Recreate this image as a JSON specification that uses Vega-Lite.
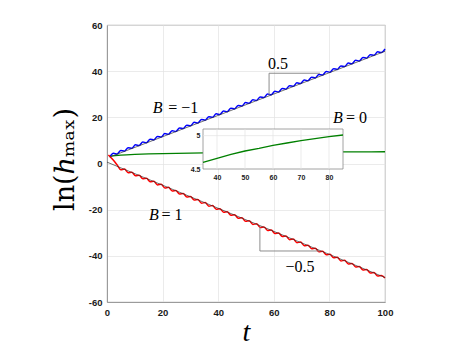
{
  "$schema": "https://vega.github.io/schema/vega-lite/v6.json",
  "autosize": "none",
  "width": 278,
  "height": 277,
  "padding": {"left": 107, "top": 25, "right": 72, "bottom": 43},
  "background": "white",
  "config": {
    "font": "Liberation Sans",
    "view": {"stroke": "#8c8c8c", "strokeWidth": 0.8}
  },
  "datasets": {
    "blue": [
      {"t": 1, "v": 2.9}, {"t": 2.32, "v": 4.41}, {"t": 3.64, "v": 4.12}, {"t": 4.96, "v": 5.63},
      {"t": 6.28, "v": 5.34}, {"t": 7.6, "v": 6.85}, {"t": 8.92, "v": 6.56}, {"t": 10.24, "v": 8.07},
      {"t": 11.56, "v": 7.79}, {"t": 12.88, "v": 9.3}, {"t": 14.2, "v": 9.01}, {"t": 15.52, "v": 10.52},
      {"t": 16.84, "v": 10.23}, {"t": 18.16, "v": 11.74}, {"t": 19.48, "v": 11.45}, {"t": 20.8, "v": 12.96},
      {"t": 22.12, "v": 12.67}, {"t": 23.44, "v": 14.18}, {"t": 24.76, "v": 13.89}, {"t": 26.08, "v": 15.4},
      {"t": 27.4, "v": 15.11}, {"t": 28.72, "v": 16.62}, {"t": 30.04, "v": 16.33}, {"t": 31.36, "v": 17.84},
      {"t": 32.68, "v": 17.55}, {"t": 34.0, "v": 19.07}, {"t": 35.32, "v": 18.78}, {"t": 36.64, "v": 20.29},
      {"t": 37.96, "v": 20.0}, {"t": 39.28, "v": 21.51}, {"t": 40.6, "v": 21.22}, {"t": 41.92, "v": 22.73},
      {"t": 43.24, "v": 22.44}, {"t": 44.56, "v": 23.95}, {"t": 45.88, "v": 23.66}, {"t": 47.2, "v": 25.17},
      {"t": 48.52, "v": 24.88}, {"t": 49.84, "v": 26.39}, {"t": 51.16, "v": 26.1}, {"t": 52.48, "v": 27.61},
      {"t": 53.8, "v": 27.32}, {"t": 55.12, "v": 28.83}, {"t": 56.44, "v": 28.55}, {"t": 57.76, "v": 30.06},
      {"t": 59.08, "v": 29.77}, {"t": 60.4, "v": 31.28}, {"t": 61.72, "v": 30.99}, {"t": 63.04, "v": 32.5},
      {"t": 64.36, "v": 32.21}, {"t": 65.68, "v": 33.72}, {"t": 67.0, "v": 33.43}, {"t": 68.32, "v": 34.94},
      {"t": 69.64, "v": 34.65}, {"t": 70.96, "v": 36.16}, {"t": 72.28, "v": 35.87}, {"t": 73.6, "v": 37.38},
      {"t": 74.92, "v": 37.09}, {"t": 76.24, "v": 38.6}, {"t": 77.56, "v": 38.32}, {"t": 78.88, "v": 39.83},
      {"t": 80.2, "v": 39.54}, {"t": 81.52, "v": 41.05}, {"t": 82.84, "v": 40.76}, {"t": 84.16, "v": 42.27},
      {"t": 85.48, "v": 41.98}, {"t": 86.8, "v": 43.49}, {"t": 88.12, "v": 43.2}, {"t": 89.44, "v": 44.71},
      {"t": 90.76, "v": 44.42}, {"t": 92.08, "v": 45.93}, {"t": 93.4, "v": 45.64}, {"t": 94.72, "v": 47.15},
      {"t": 96.04, "v": 46.86}, {"t": 97.36, "v": 48.37}, {"t": 98.68, "v": 48.08}, {"t": 100, "v": 49.6}
    ],
    "red": [
      {"t": 0.5, "v": 3.7}, {"t": 2.32, "v": 1.4}, {"t": 3.64, "v": -0.6}, {"t": 4.96, "v": -2.68},
      {"t": 6.28, "v": -2.43}, {"t": 7.6, "v": -3.99}, {"t": 8.92, "v": -3.75}, {"t": 10.24, "v": -5.31},
      {"t": 11.56, "v": -5.07}, {"t": 12.88, "v": -6.63}, {"t": 14.2, "v": -6.39}, {"t": 15.52, "v": -7.94},
      {"t": 16.84, "v": -7.7}, {"t": 18.16, "v": -9.26}, {"t": 19.48, "v": -9.02}, {"t": 20.8, "v": -10.58},
      {"t": 22.12, "v": -10.34}, {"t": 23.44, "v": -11.9}, {"t": 24.76, "v": -11.66}, {"t": 26.08, "v": -13.21},
      {"t": 27.4, "v": -12.97}, {"t": 28.72, "v": -14.53}, {"t": 30.04, "v": -14.29}, {"t": 31.36, "v": -15.85},
      {"t": 32.68, "v": -15.61}, {"t": 34.0, "v": -17.17}, {"t": 35.32, "v": -16.93}, {"t": 36.64, "v": -18.48},
      {"t": 37.96, "v": -18.24}, {"t": 39.28, "v": -19.8}, {"t": 40.6, "v": -19.56}, {"t": 41.92, "v": -21.12},
      {"t": 43.24, "v": -20.88}, {"t": 44.56, "v": -22.44}, {"t": 45.88, "v": -22.2}, {"t": 47.2, "v": -23.75},
      {"t": 48.52, "v": -23.51}, {"t": 49.84, "v": -25.07}, {"t": 51.16, "v": -24.83}, {"t": 52.48, "v": -26.39},
      {"t": 53.8, "v": -26.15}, {"t": 55.12, "v": -27.71}, {"t": 56.44, "v": -27.46}, {"t": 57.76, "v": -29.02},
      {"t": 59.08, "v": -28.78}, {"t": 60.4, "v": -30.34}, {"t": 61.72, "v": -30.1}, {"t": 63.04, "v": -31.66},
      {"t": 64.36, "v": -31.42}, {"t": 65.68, "v": -32.98}, {"t": 67.0, "v": -32.73}, {"t": 68.32, "v": -34.29},
      {"t": 69.64, "v": -34.05}, {"t": 70.96, "v": -35.61}, {"t": 72.28, "v": -35.37}, {"t": 73.6, "v": -36.93},
      {"t": 74.92, "v": -36.69}, {"t": 76.24, "v": -38.25}, {"t": 77.56, "v": -38.0}, {"t": 78.88, "v": -39.56},
      {"t": 80.2, "v": -39.32}, {"t": 81.52, "v": -40.88}, {"t": 82.84, "v": -40.64}, {"t": 84.16, "v": -42.2},
      {"t": 85.48, "v": -41.96}, {"t": 86.8, "v": -43.51}, {"t": 88.12, "v": -43.27}, {"t": 89.44, "v": -44.83},
      {"t": 90.76, "v": -44.59}, {"t": 92.08, "v": -46.15}, {"t": 93.4, "v": -45.91}, {"t": 94.72, "v": -47.47},
      {"t": 96.04, "v": -47.23}, {"t": 97.36, "v": -48.78}, {"t": 98.68, "v": -48.54}, {"t": 100, "v": -49.6}
    ],
    "green": [
      {"t": 1, "v": 3.2}, {"t": 2, "v": 3.3}, {"t": 3, "v": 3.4}, {"t": 5, "v": 3.6}, {"t": 7, "v": 3.77},
      {"t": 10, "v": 3.95}, {"t": 15, "v": 4.15}, {"t": 20, "v": 4.3}, {"t": 25, "v": 4.41}, {"t": 30, "v": 4.5},
      {"t": 35, "v": 4.6}, {"t": 40, "v": 4.66}, {"t": 50, "v": 4.77}, {"t": 60, "v": 4.855}, {"t": 70, "v": 4.925},
      {"t": 80, "v": 4.985}, {"t": 85, "v": 5.01}, {"t": 90, "v": 5.04}, {"t": 95, "v": 5.07}, {"t": 100, "v": 5.1}
    ],
    "fits": [
      {"t": 1, "v": 2.8, "s": "a"}, {"t": 100, "v": 48.6, "s": "a"},
      {"t": 0, "v": 0.6, "s": "b"}, {"t": 100, "v": -49.4, "s": "b"}
    ],
    "slopes": [
      {"t": 58.3, "v": 29.6, "t2": 58.3, "v2": 39.1},
      {"t": 58.3, "v": 39.1, "t2": 76.6, "v2": 39.1},
      {"t": 55.0, "v": -27.4, "t2": 55.0, "v2": -37.9},
      {"t": 55.0, "v": -37.9, "t2": 76.6, "v2": -37.9}
    ],
    "labelsItalic": [
      {"txt": "B", "t": 16.5, "v": 24.2},
      {"txt": "B", "t": 81.3, "v": 19.7},
      {"txt": "B", "t": 15.1, "v": -22.3}
    ],
    "labelsRoman": [
      {"txt": "= −1", "t": 22.0, "v": 24.2},
      {"txt": "= 0", "t": 86.0, "v": 19.7},
      {"txt": "= 1", "t": 19.6, "v": -22.3},
      {"txt": "0.5", "t": 57.9, "v": 43.0},
      {"txt": "−0.5", "t": 64.2, "v": -44.8}
    ],
    "insetBox": [{"t": 35, "t2": 85, "v": 4.5, "v2": 5.1}],
    "insetGrid": [
      {"t": 40, "t2": 40, "v": 4.5, "v2": 5.1},
      {"t": 50, "t2": 50, "v": 4.5, "v2": 5.1},
      {"t": 60, "t2": 60, "v": 4.5, "v2": 5.1},
      {"t": 70, "t2": 70, "v": 4.5, "v2": 5.1},
      {"t": 80, "t2": 80, "v": 4.5, "v2": 5.1},
      {"t": 35, "t2": 85, "v": 5.0, "v2": 5.0}
    ],
    "insetCurve": [
      {"t": 35, "v": 4.6}, {"t": 40, "v": 4.66}, {"t": 45, "v": 4.72}, {"t": 50, "v": 4.77},
      {"t": 55, "v": 4.81}, {"t": 60, "v": 4.855}, {"t": 65, "v": 4.89}, {"t": 70, "v": 4.925},
      {"t": 75, "v": 4.955}, {"t": 80, "v": 4.985}, {"t": 85, "v": 5.01}
    ]
  },
  "layer": [
    {
      "layer": [
        {
          "data": {"name": "green"},
          "mark": {"type": "line", "color": "#008000", "strokeWidth": 1.3},
          "encoding": {
            "x": {
              "field": "t", "type": "quantitative",
              "scale": {"domain": [0, 100], "nice": false},
              "axis": {
                "title": "t", "titleFont": "Liberation Serif", "titleFontStyle": "italic",
                "titleFontWeight": "normal", "titleFontSize": 28, "titleColor": "#000",
                "titleBaseline": "alphabetic", "titleY": 38,
                "values": [0, 20, 40, 60, 80, 100],
                "labelFont": "Liberation Sans", "labelFontWeight": "bold", "labelFontSize": 9.5,
                "labelColor": "#1a1a1a", "labelPadding": 5, "labelFlush": false, "labelOverlap": false,
                "tickSize": 0, "grid": true, "gridColor": "#e3e3e3", "gridWidth": 0.7,
                "domainColor": "#8c8c8c", "domainWidth": 0.8
              }
            },
            "y": {
              "field": "v", "type": "quantitative",
              "scale": {"domain": [-60, 60], "nice": false},
              "axis": {
                "title": "ln(ℎₘₐₓ)", "titleFont": "DejaVu Serif", "titleFontWeight": "normal",
                "titleFontSize": 27, "titleColor": "#000", "titleBaseline": "alphabetic",
                "titleX": -34, "titleY": 134,
                "values": [-60, -40, -20, 0, 20, 40, 60],
                "labelExpr": "toString(datum.value)",
                "labelFont": "Liberation Sans", "labelFontWeight": "bold", "labelFontSize": 9.5,
                "labelColor": "#1a1a1a", "labelPadding": 5, "labelFlush": false, "labelOverlap": false,
                "tickSize": 0, "grid": true, "gridColor": "#e3e3e3", "gridWidth": 0.7,
                "domainColor": "#8c8c8c", "domainWidth": 0.8
              }
            }
          }
        },
        {
          "data": {"name": "blue"},
          "mark": {"type": "line", "color": "#0000ff", "strokeWidth": 1.5, "interpolate": "monotone"},
          "encoding": {
            "x": {"field": "t", "type": "quantitative"},
            "y": {"field": "v", "type": "quantitative"}
          }
        },
        {
          "data": {"name": "red"},
          "mark": {"type": "line", "color": "#ff0000", "strokeWidth": 1.5, "interpolate": "monotone"},
          "encoding": {
            "x": {"field": "t", "type": "quantitative"},
            "y": {"field": "v", "type": "quantitative"}
          }
        },
        {
          "data": {"name": "fits"},
          "mark": {"type": "line", "color": "#333333", "strokeWidth": 0.7},
          "encoding": {
            "x": {"field": "t", "type": "quantitative"},
            "y": {"field": "v", "type": "quantitative"},
            "detail": {"field": "s"}
          }
        },
        {
          "data": {"name": "slopes"},
          "mark": {"type": "rule", "color": "#808080", "strokeWidth": 0.9},
          "encoding": {
            "x": {"field": "t", "type": "quantitative"},
            "y": {"field": "v", "type": "quantitative"},
            "x2": {"field": "t2"},
            "y2": {"field": "v2"}
          }
        },
        {
          "data": {"name": "labelsItalic"},
          "mark": {"type": "text", "font": "Liberation Serif", "fontStyle": "italic", "fontSize": 16, "align": "left", "baseline": "middle", "color": "#000"},
          "encoding": {
            "x": {"field": "t", "type": "quantitative"},
            "y": {"field": "v", "type": "quantitative"},
            "text": {"field": "txt"}
          }
        },
        {
          "data": {"name": "labelsRoman"},
          "mark": {"type": "text", "font": "Liberation Serif", "fontSize": 16, "align": "left", "baseline": "middle", "color": "#000"},
          "encoding": {
            "x": {"field": "t", "type": "quantitative"},
            "y": {"field": "v", "type": "quantitative"},
            "text": {"field": "txt"}
          }
        }
      ]
    },
    {
      "layer": [
        {
          "data": {"name": "insetBox"},
          "mark": {"type": "rect", "fill": "white", "stroke": "#8c8c8c", "strokeWidth": 0.8},
          "encoding": {
            "x": {
              "field": "t", "type": "quantitative",
              "scale": {"domain": [35, 85], "range": [96, 236], "nice": false},
              "axis": {
                "orient": "bottom", "offset": -133, "title": null,
                "values": [40, 50, 60, 70, 80],
                "grid": false, "domain": false, "ticks": false,
                "labelFont": "Liberation Sans", "labelFontWeight": "bold", "labelFontSize": 7,
                "labelColor": "#1a1a1a", "labelPadding": 4, "labelFlush": false, "labelOverlap": false
              }
            },
            "x2": {"field": "t2"},
            "y": {
              "field": "v", "type": "quantitative",
              "scale": {"domain": [4.5, 5.1], "range": [144, 104], "nice": false, "zero": false},
              "axis": {
                "orient": "left", "offset": -96, "title": null,
                "values": [4.5, 5], "format": "~g",
                "grid": false, "domain": false, "ticks": false,
                "labelFont": "Liberation Sans", "labelFontWeight": "bold", "labelFontSize": 7,
                "labelColor": "#1a1a1a", "labelPadding": 3, "labelFlush": false, "labelOverlap": false
              }
            },
            "y2": {"field": "v2"}
          }
        },
        {
          "data": {"name": "insetGrid"},
          "mark": {"type": "rule", "color": "#e3e3e3", "strokeWidth": 0.7},
          "encoding": {
            "x": {"field": "t", "type": "quantitative"},
            "y": {"field": "v", "type": "quantitative"},
            "x2": {"field": "t2"},
            "y2": {"field": "v2"}
          }
        },
        {
          "data": {"name": "insetCurve"},
          "mark": {"type": "line", "color": "#008000", "strokeWidth": 1.3},
          "encoding": {
            "x": {"field": "t", "type": "quantitative"},
            "y": {"field": "v", "type": "quantitative"}
          }
        }
      ]
    }
  ],
  "resolve": {"scale": {"x": "independent", "y": "independent"}, "axis": {"x": "independent", "y": "independent"}}
}
